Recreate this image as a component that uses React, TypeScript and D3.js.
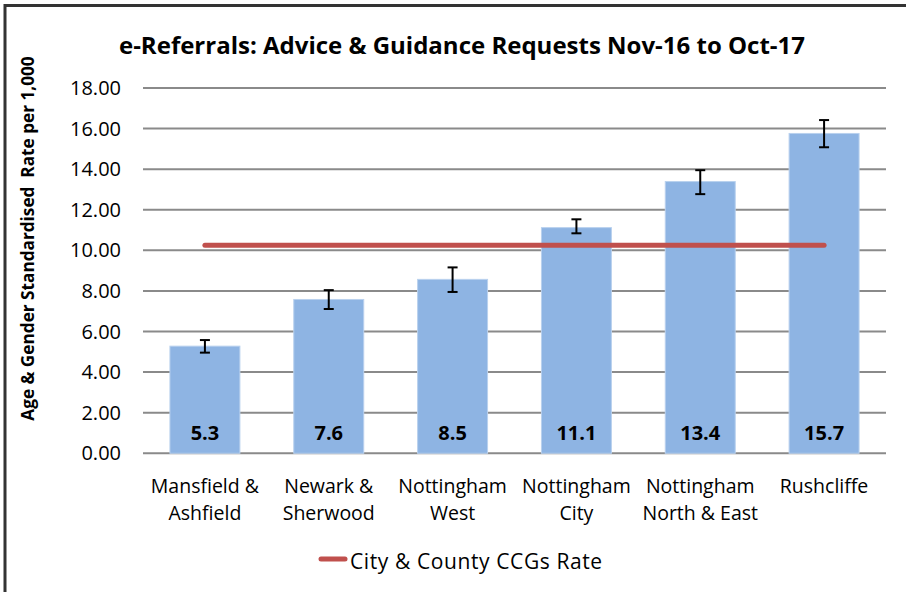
import React from "react";
import * as d3 from "d3";

const categories: string[][] = [
  ["Mansfield &", "Ashfield"],
  ["Newark &", "Sherwood"],
  ["Nottingham", "West"],
  ["Nottingham", "City"],
  ["Nottingham", "North & East"],
  ["Rushcliffe"],
];
const rates = [5.28, 7.58, 8.57, 11.12, 13.39, 15.76];
const rateLabels = ["5.3", "7.6", "8.5", "11.1", "13.4", "15.7"];
const lowerCI = [4.96, 7.11, 7.95, 10.84, 12.77, 15.08];
const upperCI = [5.58, 8.04, 9.16, 11.53, 13.95, 16.42];
const cityCountyRate = [10.25, 10.25, 10.25, 10.25, 10.25, 10.25];
const yTicks = [0, 2, 4, 6, 8, 10, 12, 14, 16, 18];

const W = 906;
const H = 592;
const FONT = "'Open Sans', sans-serif";

export default function App() {
  const x = d3
    .scaleBand<number>()
    .domain(d3.range(categories.length))
    .range([143, 886])
    .paddingInner(0.435)
    .paddingOuter(0.2175);
  const y = d3.scaleLinear().domain([0, 18]).range([453.3, 88]);
  const cx = (i: number) => (x(i) as number) + x.bandwidth() / 2;
  const line = d3
    .line<number>()
    .x((_, i) => cx(i))
    .y((d) => y(d));

  return (
    <svg
      width={W}
      height={H}
      style={{ position: "absolute", left: 0, top: 0, background: "#fff" }}
      fontFamily={FONT}
    >
      <rect x={0} y={0} width={W} height={H} fill="#fff" />
      <rect x={5} y={5.5} width={W + 20} height={H + 20} fill="none" stroke="#333" strokeWidth={3} />
      <text x={462} y={54} textAnchor="middle" fontSize={24} fontWeight="bold" fill="#000">
        e-Referrals: Advice &amp; Guidance Requests Nov-16 to Oct-17
      </text>
      <text
        transform={`translate(34,238.5) rotate(-90)`}
        textAnchor="middle"
        fontSize={17.2}
        fontWeight="bold"
        fill="#000"
      >
        Age &amp; Gender Standardised&#160; Rate per 1,000
      </text>
      {yTicks.map((t) => (
        <g key={t}>
          <line x1={143} x2={886} y1={y(t)} y2={y(t)} stroke="#8a8a8a" strokeWidth={2} />
          <text x={121} y={y(t) + 7} textAnchor="end" fontSize={20} fill="#000">
            {d3.format(".2f")(t)}
          </text>
        </g>
      ))}
      {rates.map((v, i) => (
        <rect
          key={i}
          x={x(i)}
          y={y(v)}
          width={x.bandwidth()}
          height={y(0) - y(v)}
          fill="#8EB4E3"
          stroke="#B9D1EE"
          strokeWidth={1}
        />
      ))}
      {rates.map((v, i) => (
        <g key={"e" + i} stroke="#000" strokeWidth={2}>
          <line x1={cx(i)} x2={cx(i)} y1={y(upperCI[i])} y2={y(lowerCI[i])} />
          <line x1={cx(i) - 5} x2={cx(i) + 5} y1={y(upperCI[i])} y2={y(upperCI[i])} />
          <line x1={cx(i) - 5} x2={cx(i) + 5} y1={y(lowerCI[i])} y2={y(lowerCI[i])} />
        </g>
      ))}
      <path d={line(cityCountyRate) || ""} fill="none" stroke="#C0504D" strokeWidth={5} strokeLinecap="round" />
      {rates.map((v, i) => (
        <text key={"l" + i} x={cx(i)} y={440} textAnchor="middle" fontSize={20} fontWeight="bold" fill="#000">
          {rateLabels[i]}
        </text>
      ))}
      {categories.map((lines, i) => (
        <text key={"c" + i} x={cx(i)} textAnchor="middle" fontSize={19.5} fill="#000">
          {lines.map((s, j) => (
            <tspan key={j} x={cx(i)} y={493 + j * 26.7}>
              {s}
            </tspan>
          ))}
        </text>
      ))}
      <line x1={321} x2={345} y1={559} y2={559} stroke="#C0504D" strokeWidth={5} strokeLinecap="round" />
      <text x={350} y={569} fontSize={21} letterSpacing={0.6} fill="#000">
        City &amp; County CCGs Rate
      </text>
    </svg>
  );
}
